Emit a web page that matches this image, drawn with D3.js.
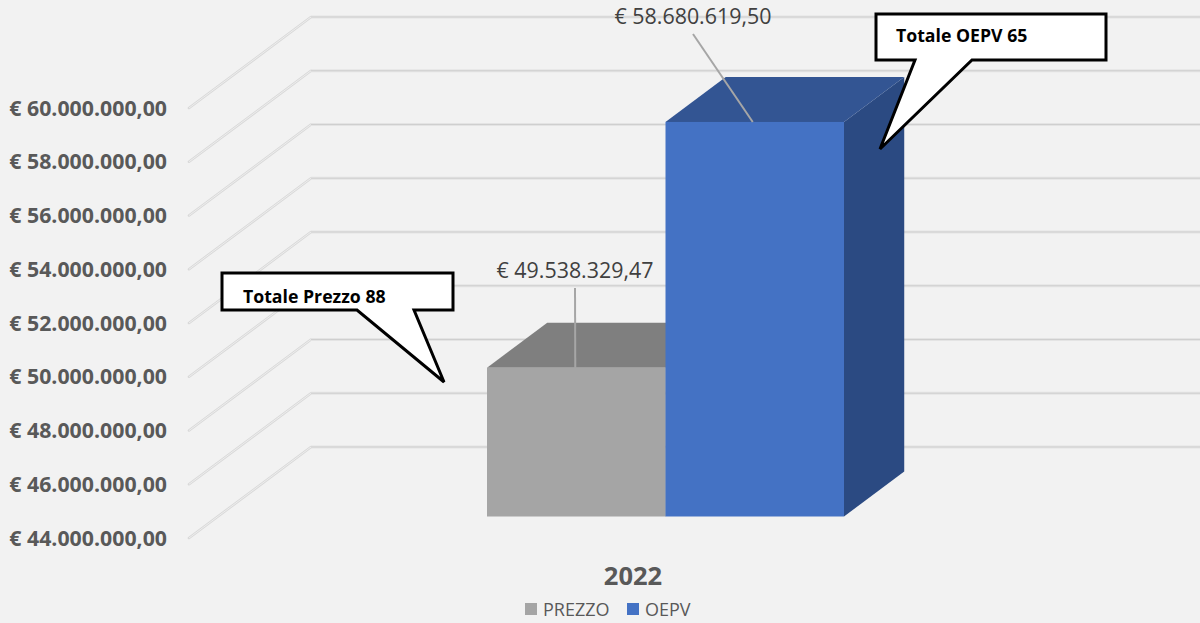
<!DOCTYPE html>
<html><head><meta charset="utf-8">
<style>html,body{margin:0;padding:0;background:#f2f2f2}svg{display:block}text{font-family:"Open Sans",sans-serif}</style>
<script src="https://cdn.jsdelivr.net/npm/d3@7"></script></head>
<body><svg id="c" width="1200" height="623"></svg>
<script>
const category = "2022";
const seriesNames = ["PREZZO", "OEPV"];
const seriesValues = [49538329.47, 58680619.50];
const seriesFront = ["#a5a5a5", "#4472c4"];
const seriesTop = ["#7f7f7f", "#335593"];
const seriesSide = ["#7a7a7a", "#2b4a82"];
const yTicks = [44e6, 46e6, 48e6, 50e6, 52e6, 54e6, 56e6, 58e6, 60e6];
const callouts = [
  {text: "Totale Prezzo 88", box: [222, 273, 453, 310], tail: [[357, 310], [444, 382], [414, 310]], tx: 243, ty: 303},
  {text: "Totale OEPV 65", box: [876, 14, 1106, 60], tail: [[915, 60], [880, 149], [972, 60]], tx: 896, ty: 42}
];

const svg = d3.select("#c");
const fmt = d3.formatLocale({decimal: ",", thousands: ".", grouping: [3], currency: ["€ ", ""]}).format("$,.2f");
const y = d3.scaleLinear().domain([44e6, 60e6]).range([538, 108]);
const x = d3.scaleBand().domain(seriesNames).range([487, 844]);
const depthX = 122, depthY = -91;           // full floor depth
const barFront = 0.2363, barBack = 0.73;    // bar position along the depth
const py = (v, d) => y(v) + depthY * d;
const line = d3.line();

// gridlines: diagonal wall edge plus back wall line
const grid = svg.append("g");
yTicks.forEach(t => {
  const pts = [[189, y(t)], [189 + depthX, py(t, 1)], [1200, py(t, 1)]];
  grid.append("path").attr("d", line(pts.slice(0, 2))).attr("fill", "none").attr("stroke", "#d9d9d9").attr("stroke-width", 2.6).attr("stroke-linecap", "round");
  grid.append("path").attr("d", line(pts.slice(0, 2))).attr("fill", "none").attr("stroke", "#efefef").attr("stroke-width", 0.9);
  grid.append("path").attr("d", line(pts.slice(1))).attr("fill", "none").attr("stroke", "#e4e4e4").attr("stroke-width", 3);
  grid.append("path").attr("d", line(pts.slice(1))).attr("fill", "none").attr("stroke", "#cfcfcf").attr("stroke-width", 1);
});

// axis labels
svg.append("g").selectAll("text").data(yTicks).join("text")
  .attr("x", 167).attr("y", d => y(d) + 7.5).attr("text-anchor", "end")
  .attr("font-size", 21.3).attr("font-weight", 700).attr("fill", "#595959").text(fmt);

// bars
const base = 44e6;
const dx = depthX * (barBack - barFront);
seriesNames.forEach((n, i) => {
  const v = seriesValues[i], x0 = x(n), x1 = x0 + x.bandwidth();
  const g = svg.append("g");
  g.append("path").attr("fill", seriesSide[i]).attr("d", line([
    [x1, py(v, barFront)], [x1 + dx, py(v, barBack)],
    [x1 + dx, py(base, barBack)], [x1, py(base, barFront)]]) + "Z");
  g.append("path").attr("fill", seriesTop[i]).attr("d", line([
    [x0, py(v, barFront)], [x0 + dx, py(v, barBack)],
    [x1 + dx, py(v, barBack)], [x1, py(v, barFront)]]) + "Z");
  g.append("rect").attr("fill", seriesFront[i])
    .attr("x", x0).attr("width", x.bandwidth())
    .attr("y", py(v, barFront)).attr("height", py(base, barFront) - py(v, barFront));
});

// leader lines and data labels
const leaders = [
  {from: [575, 288], lx: 575, ly: 278},
  {from: [693, 34], lx: 693, ly: 24}
];
seriesNames.forEach((n, i) => {
  const v = seriesValues[i], cx = x(n) + x.bandwidth() / 2;
  const yTop = py(v, barFront);
  svg.append("path").attr("fill", "none").attr("stroke", "#a6a6a6").attr("stroke-width", 2)
    .attr("d", line([leaders[i].from, [i ? cx - 2 : cx - 1, yTop]]));
  svg.append("text").attr("x", leaders[i].lx).attr("y", leaders[i].ly).attr("text-anchor", "middle")
    .attr("font-size", 21.4).attr("fill", "#404040").text(fmt(v));
});

// callouts
callouts.forEach(c => {
  const [l, t, r, b] = c.box;
  const pts = [[l, t], [r, t], [r, b], c.tail[2], c.tail[1], c.tail[0], [l, b]];
  svg.append("path").attr("d", line(pts) + "Z").attr("fill", "#fff").attr("stroke", "#000")
    .attr("stroke-width", 3).attr("stroke-linejoin", "miter");
  svg.append("text").attr("x", c.tx).attr("y", c.ty).attr("font-size", 17.7).attr("font-weight", 700)
    .attr("fill", "#000").text(c.text);
});

// category label
svg.append("text").attr("x", 633).attr("y", 585).attr("text-anchor", "middle")
  .attr("font-size", 25.5).attr("font-weight", 700).attr("fill", "#595959").text(category);

// legend
const legendX = [525, 627];
seriesNames.forEach((n, i) => {
  svg.append("rect").attr("x", legendX[i]).attr("y", 603).attr("width", 12).attr("height", 12).attr("fill", seriesFront[i]);
  svg.append("text").attr("x", legendX[i] + 18).attr("y", 616).attr("font-size", 18).attr("fill", "#595959").text(n);
});
</script>
</body></html>
